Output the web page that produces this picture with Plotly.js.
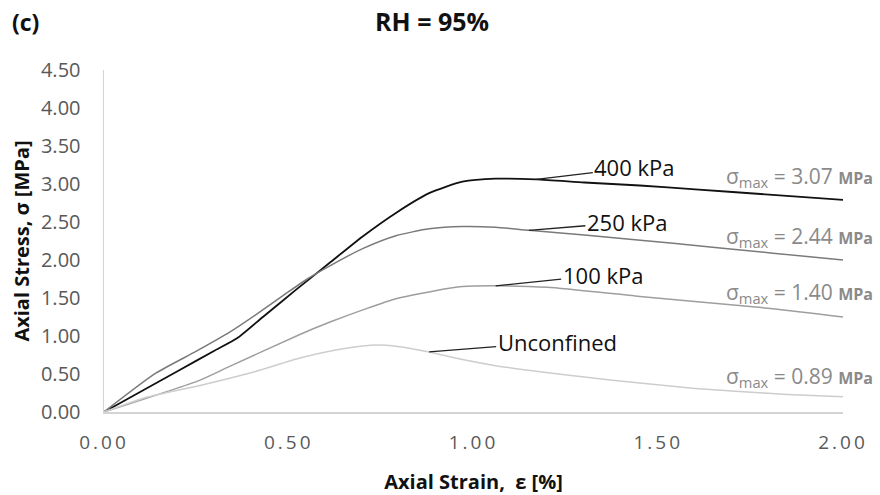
<!DOCTYPE html>
<html>
<head>
<meta charset="utf-8">
<script src="https://cdn.plot.ly/plotly-3.0.1.min.js"></script>
<style>
html,body{margin:0;padding:0;background:#fff;}
#chart{width:880px;height:495px;}
.xtick text{letter-spacing:3px;}
</style>
</head>
<body>
<div id="chart"></div>
<script>
// ---- data ----
const strain400 = [0, 0.10, 0.20, 0.30, 0.36, 0.43, 0.52, 0.61, 0.70, 0.79, 0.88, 0.97, 1.06, 1.17, 1.30, 1.45, 1.60, 1.80, 2.00];
const stress400 = [0, 0.27, 0.54, 0.81, 0.97, 1.25, 1.61, 1.96, 2.31, 2.62, 2.88, 3.03, 3.07, 3.06, 3.02, 2.98, 2.93, 2.86, 2.79];

const strain250 = [0, 0.14, 0.25, 0.34, 0.42, 0.49, 0.55, 0.61, 0.70, 0.79, 0.88, 0.97, 1.06, 1.15, 1.30, 1.54, 1.81, 2.00];
const stress250 = [0, 0.51, 0.80, 1.05, 1.31, 1.55, 1.75, 1.92, 2.15, 2.32, 2.41, 2.44, 2.43, 2.39, 2.33, 2.22, 2.09, 2.00];

const strain100 = [0, 0.26, 0.34, 0.53, 0.61, 0.71, 0.79, 0.89, 0.97, 1.06, 1.20, 1.45, 1.81, 2.00];
const stress100 = [0, 0.42, 0.60, 1.02, 1.18, 1.36, 1.49, 1.59, 1.65, 1.66, 1.64, 1.52, 1.36, 1.25];

const strainUnc = [0, 0.12, 0.26, 0.40, 0.53, 0.62, 0.70, 0.75, 0.80, 0.88, 0.97, 1.06, 1.18, 1.30, 1.45, 1.60, 1.72, 1.85, 2.00];
const stressUnc = [0, 0.20, 0.35, 0.52, 0.71, 0.81, 0.87, 0.88, 0.86, 0.79, 0.69, 0.61, 0.53, 0.46, 0.38, 0.31, 0.27, 0.23, 0.20];

const seriesNames = ['400 kPa', '250 kPa', '100 kPa', 'Unconfined'];
const sigmaMaxLabels = ['3.07', '2.44', '1.40', '0.89'];
const yTickVals = [0, 0.5, 1, 1.5, 2, 2.5, 3, 3.5, 4, 4.5];
const xTickVals = [0, 0.5, 1, 1.5, 2];

const FONT = 'Open Sans, Liberation Sans, sans-serif';
const colors = ['#111111', '#7a7a7a', '#9e9e9e', '#cdcdcd'];
const xs = [strain400, strain250, strain100, strainUnc];
const ys = [stress400, stress250, stress100, stressUnc];

const traces = xs.map((x, i) => ({
  x: x, y: ys[i], type: 'scatter', mode: 'lines', name: seriesNames[i],
  line: {color: colors[i], width: i === 0 ? 1.8 : 1.5, shape: 'spline', smoothing: 0.6},
  hoverinfo: 'skip'
}));

// label leader anchors: point on each curve (index into data) and offset to text
const leaderIdx = [13, 13, 9, 9];
const leaderOff = [[98, -12], [98, -8], [107, -11], [128, -10]];

const annotations = [];
seriesNames.forEach((n, i) => {
  annotations.push({
    x: xs[i][leaderIdx[i]], y: ys[i][leaderIdx[i]], xref: 'x', yref: 'y',
    text: n, showarrow: true, arrowhead: 0, arrowwidth: 1.3, arrowcolor: '#222',
    ax: leaderOff[i][0], ay: leaderOff[i][1],
    font: {family: FONT, size: 22, color: '#111'}, standoff: 0
  });
});
const sigmaY = [3.09, 2.30, 1.57, 0.46];
sigmaMaxLabels.forEach((v, i) => {
  annotations.push({
    x: 1.043, xref: 'paper', y: sigmaY[i], yref: 'y', xanchor: 'right', yanchor: 'middle',
    showarrow: false,
    text: 'σ<sub>max</sub> = ' + v + ' <b><span style="font-size:16px">MPa</span></b>',
    font: {family: FONT, size: 21, color: '#8a8a8a'}
  });
});
annotations.push({
  x: -0.127, xref: 'paper', y: 1.14, yref: 'paper', xanchor: 'left', yanchor: 'middle',
  showarrow: false, text: '<b>(c)</b>', font: {family: FONT, size: 23, color: '#111'}
});

const layout = {
  width: 880, height: 495,
  margin: {l: 104, r: 37, t: 70, b: 83},
  paper_bgcolor: '#fff', plot_bgcolor: '#fff',
  showlegend: false,
  font: {family: FONT, color: '#595959'},
  title: {
    text: '<b>RH = 95%</b>', x: 0.491, xref: 'container', xanchor: 'center',
    y: 0.955, yref: 'container', yanchor: 'middle',
    font: {family: FONT, size: 25, color: '#111'}
  },
  xaxis: {
    range: [0, 2], tickvals: xTickVals, tickformat: '.2f',
    showgrid: false, zeroline: false, showline: true, linecolor: '#d4d4d4', linewidth: 1.5,
    ticks: 'outside', ticklen: 13, tickcolor: 'rgba(0,0,0,0)',
    tickfont: {family: FONT, size: 19, color: '#595959'},
    title: {text: '<b>Axial Strain,  ε [%]</b>', standoff: 20, font: {family: FONT, size: 20, color: '#111'}}
  },
  yaxis: {
    range: [0, 4.5], tickvals: yTickVals, tickformat: '.2f',
    showgrid: false, zeroline: false, showline: true, linecolor: '#d4d4d4', linewidth: 1.5,
    ticks: '', ticklabelstandoff: 18,
    tickfont: {family: FONT, size: 20, color: '#595959'},
    title: {text: '<b>Axial Stress, σ [MPa]</b>', standoff: 6, font: {family: FONT, size: 20, color: '#111'}}
  },
  annotations: annotations
};

Plotly.newPlot('chart', traces, layout, {staticPlot: true, displayModeBar: false});
</script>
</body>
</html>
